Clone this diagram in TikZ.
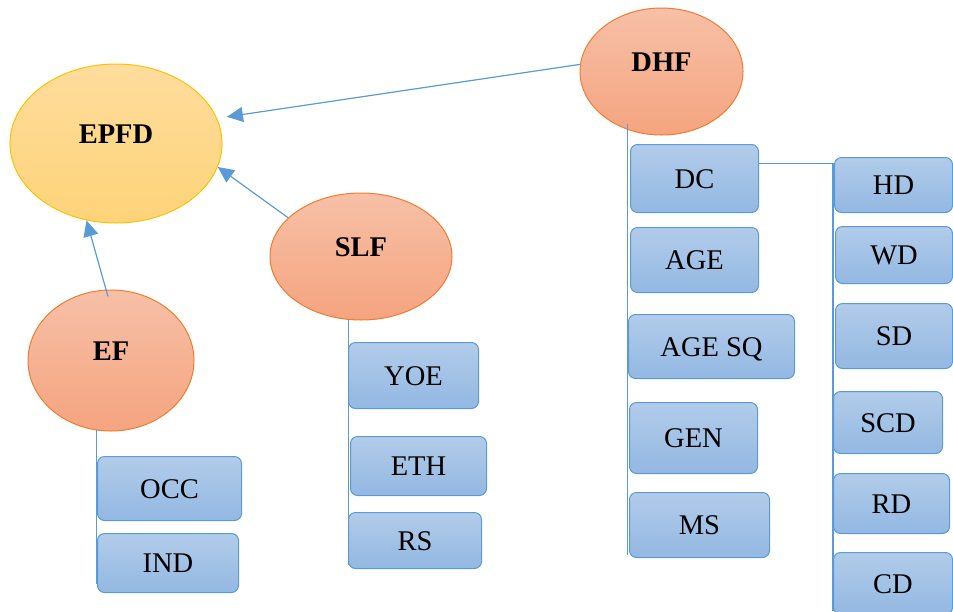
\documentclass[tikz,border=0pt]{standalone}
\usepackage{fontspec}
\setmainfont{Liberation Serif}
\usetikzlibrary{shapes.geometric}
\usetikzlibrary{arrows.meta}
\usepackage{xcolor}

\definecolor{linkblue}{HTML}{5B9BD5}
\definecolor{boxtop}{HTML}{B2CCEA}
\definecolor{boxbot}{HTML}{93B8E2}
\definecolor{orangeline}{HTML}{ED7D31}
\definecolor{orangetop}{HTML}{F7C0A7}
\definecolor{orangebot}{HTML}{F5A47F}
\definecolor{goldline}{HTML}{FFC000}
\definecolor{goldtop}{HTML}{FEDC9C}
\definecolor{goldbot}{HTML}{FED479}

\begin{document}
\begin{tikzpicture}[x=1pt, y=-1pt]
        % ================= 样式定义 =================
        \tikzset{
            % 因子椭圆:橙色渐变
            factor/.style={ellipse, draw=orangeline, line width=1pt, top color=orangetop, bottom color=orangebot,
                inner sep=0pt, text height=10pt, text depth=10pt, font=\fontsize{28.5}{30}\selectfont\bfseries},
            % 目标椭圆:金色渐变
            target/.style={factor, draw=goldline, top color=goldtop, bottom color=goldbot},
            % 变量方框:蓝色渐变圆角矩形
            varbox/.style={rectangle, rounded corners=7pt, draw=linkblue, line width=1pt, top color=boxtop, bottom color=boxbot,
                anchor=north west, inner sep=0pt, text height=19pt, text depth=0pt, font=\fontsize{28.5}{30}\selectfont},
            % 箭头与连线
            arr/.style={draw=linkblue, line width=1.2pt, -{Triangle[length=16pt, width=15pt]}},
            link/.style={draw=linkblue, line width=1.1pt}
        }

        \path[use as bounding box] (0,0) rectangle (953,611);
        \clip (0,0) rectangle (953,611);

        % ================= 椭圆节点 =================
        \node[target, minimum width=212pt, minimum height=159pt] (epfd) at (116,143.5) {EPFD};
        \node[factor, minimum width=163pt, minimum height=127pt] (dhf) at (661.5,71.5) {DHF};
        \node[factor, minimum width=182pt, minimum height=127pt] (slf) at (361,256.5) {SLF};
        \node[factor, minimum width=166pt, minimum height=141pt] (ef) at (111,360.5) {EF};

        % 三个因子指向 EPFD
        \draw[arr, shorten >=10pt] (dhf.175) -- (epfd.14);
        \draw[arr] (slf.152) -- (epfd.347);
        \draw[arr, shorten <=-7pt] (ef.94) -- (epfd.249);

        % 竖直主干线的下端
        \coordinate (efend) at (96,584);
        \coordinate (slfend) at (349,565);
        \coordinate (dhfend) at (628,555);
        \coordinate (rightend) at (833,611);

        \draw[link] (ef.258) -- (ef.258 |- efend);
        \draw[link] (slf.259) -- (slf.259 |- slfend);
        \draw[link, shorten <=-6pt] (dhf.240) -- (dhf.240 |- dhfend);

        % ================= EF 的变量 =================
        \node[varbox, minimum width=144pt, minimum height=64pt] (occ) at (97,456) {OCC};
        \node[varbox, minimum width=141pt, minimum height=59pt] (ind) at (97,533) {IND};

        % ================= SLF 的变量 =================
        \node[varbox, minimum width=130pt, minimum height=66pt] (yoe) at (348,342) {YOE};
        \node[varbox, minimum width=136pt, minimum height=59pt] (eth) at (350,436) {ETH};
        \node[varbox, minimum width=133pt, minimum height=56pt] (rs) at (348,512) {RS};

        % ================= DHF 的变量 =================
        \node[varbox, minimum width=128pt, minimum height=68pt] (dc) at (630,144) {DC};
        \node[varbox, minimum width=128pt, minimum height=65pt] (age) at (630,227) {AGE};
        \node[varbox, minimum width=166pt, minimum height=64pt] (agesq) at (628,314) {AGE SQ};
        \node[varbox, minimum width=128pt, minimum height=71pt] (gen) at (629,402) {GEN};
        \node[varbox, minimum width=140pt, minimum height=65pt] (ms) at (629,492) {MS};

        % DC 的分支
        \draw[link] ([yshift=15pt]dc.east) -| (rightend);

        \node[varbox, minimum width=118pt, minimum height=55pt] (hd) at (834,157) {HD};
        \node[varbox, minimum width=117pt, minimum height=57pt] (wd) at (835,226) {WD};
        \node[varbox, minimum width=117pt, minimum height=65pt] (sd) at (835,303) {SD};
        \node[varbox, minimum width=109pt, minimum height=62pt] (scd) at (833,391) {SCD};
        \node[varbox, minimum width=116pt, minimum height=60pt] (rd) at (833,473) {RD};
        \node[varbox, minimum width=119pt, minimum height=62pt] (cd) at (833,552) {CD};

    \end{tikzpicture}
\end{document}
